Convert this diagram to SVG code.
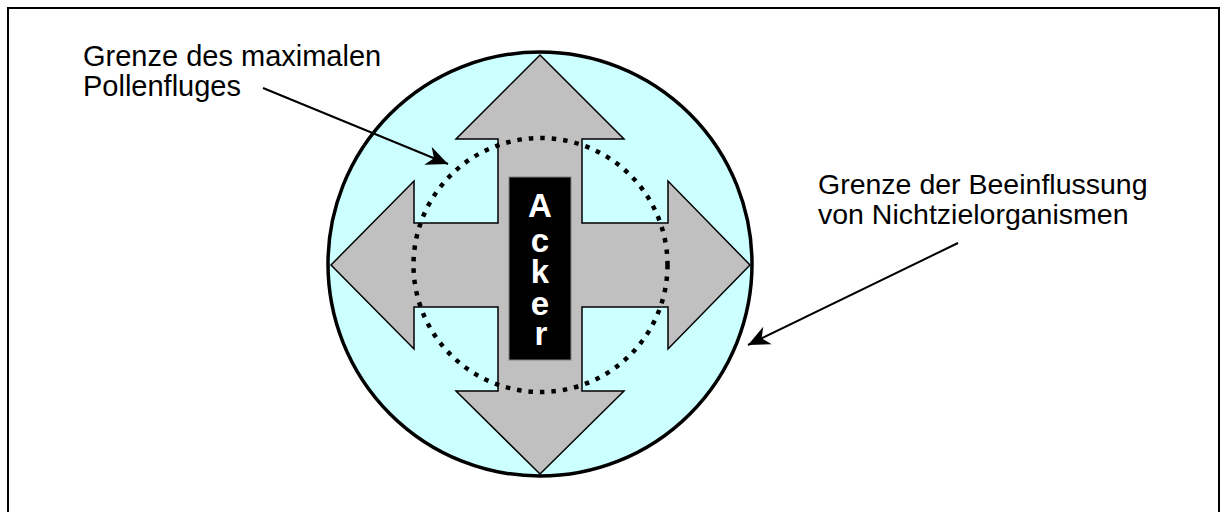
<svg xmlns="http://www.w3.org/2000/svg" width="1226" height="512" viewBox="0 0 1226 512">
<style>
.lbl{font-family:"Liberation Sans",Arial,sans-serif;fill:#000}
.ack{font-family:"Liberation Sans",Arial,sans-serif;font-weight:bold;font-size:33px;fill:#fff;text-anchor:middle}
.conn{stroke:#000;stroke-width:2;fill:none}
</style>
<defs>
<marker id="ah" markerUnits="userSpaceOnUse" markerWidth="26" markerHeight="26" viewBox="-22 -11 24 22" refX="0" refY="0" orient="auto">
<path d="M0,0 L-20,-9 L-14,0 L-20,9 z" fill="#000"/>
</marker>
</defs>
<rect width="1226" height="512" fill="#fff"/>
<g id="frame" stroke="#000" stroke-width="2" fill="none">
<path d="M8,512 V8 H1219 V512"/>
</g>
<g id="outer-boundary">
<circle cx="540" cy="264" r="212" fill="#ccffff" stroke="#000" stroke-width="3.5"/>
</g>
<g id="cross">
<polygon points="540,55 624,139 582,139 582,223 668,223 668,181 750,265 668,349 668,307 582,307 582,391 624,391 540,474 456,391 498,391 498,307 414,307 414,349 331,265 414,181 414,223 498,223 498,139 456,139" fill="#c0c0c0" stroke="#000" stroke-width="1.5" stroke-linejoin="miter"/>
</g>
<g id="pollen-boundary">
<circle cx="540.5" cy="265" r="127" fill="none" stroke="#000" stroke-width="4.5" stroke-dasharray="4.5 7"/>
</g>
<g id="acker">
<rect x="509" y="177" width="62" height="183" fill="#000" stroke="#808080" stroke-width="1"/>
<text class="ack" x="540" y="217">A<tspan x="540" y="252">c</tspan><tspan x="540" y="283">k</tspan><tspan x="540" y="315">e</tspan><tspan x="541" y="345">r</tspan></text>
</g>
<g id="label-pollen">
<text class="lbl" x="83" y="66" font-size="29">Grenze des maximalen</text>
<text class="lbl" x="83" y="96" font-size="29">Pollenfluges</text>
</g>
<g id="label-nichtziel">
<text class="lbl" x="818" y="194" font-size="28.5">Grenze der Beeinflussung</text>
<text class="lbl" x="818" y="224" font-size="28.5">von Nichtzielorganismen</text>
</g>
<g id="connectors">
<line class="conn" x1="263" y1="88" x2="448" y2="164" marker-end="url(#ah)"/>
<line class="conn" x1="958" y1="243" x2="748" y2="345" marker-end="url(#ah)"/>
</g>
</svg>
